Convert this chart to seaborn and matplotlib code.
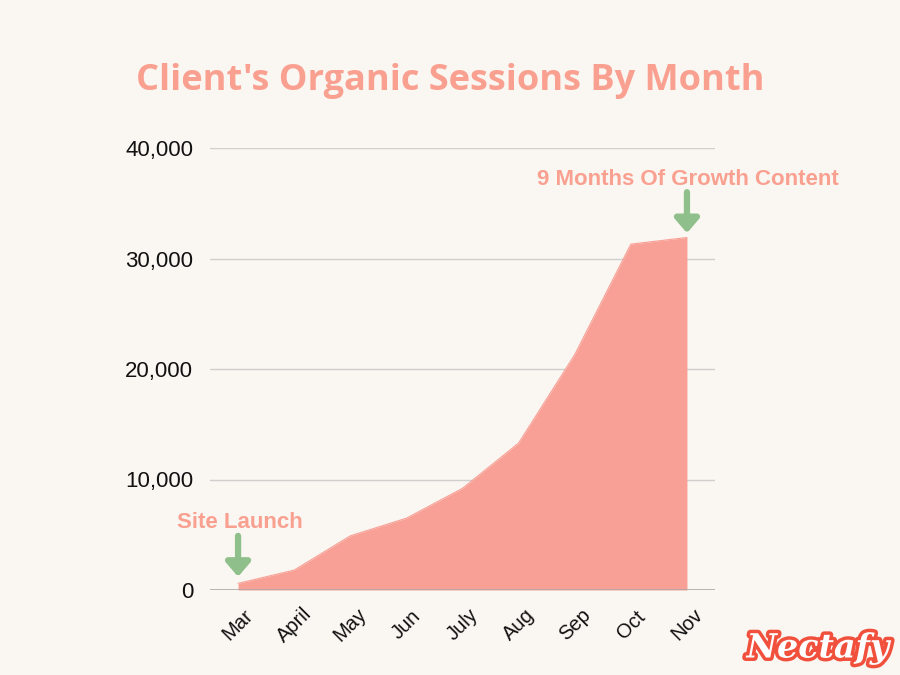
import matplotlib
matplotlib.use("Agg")
import matplotlib.pyplot as plt
import matplotlib.patheffects as pe
import seaborn as sns
import pandas as pd

months = ["Mar", "April", "May", "Jun", "July", "Aug", "Sep", "Oct", "Nov"]
sessions = [600, 1800, 4900, 6500, 9200, 13300, 21300, 31300, 31900]
yticks = [0, 10000, 20000, 30000, 40000]
ytick_labels = ["0", "10,000", "20,000", "30,000", "40,000"]
title = "Client's Organic Sessions By Month"
note_start = "Site Launch"
note_end = "9 Months Of Growth Content"

bg = "#faf6f1"
salmon = "#f8a096"
text_salmon = "#f9a090"
green = "#8fbf8a"

sns.set_theme(style="white")
plt.rcParams["font.family"] = ["Liberation Sans", "DejaVu Sans"]

df = pd.DataFrame({"month": months, "sessions": sessions})
df["x"] = range(len(df))

fig = plt.figure(figsize=(9, 6.75), dpi=100, facecolor=bg)
ax = fig.add_axes([210/900, 1-590/675, 505/900, 442/675])
ax.set_facecolor(bg)

ax.fill_between(df["x"], df["sessions"], 0, color=salmon, linewidth=0, zorder=2)
sns.lineplot(data=df, x="x", y="sessions", ax=ax, color=salmon, linewidth=0.8, zorder=2)

ax.set_xlim(-0.5, len(months) - 0.5)
ax.set_ylim(0, 40000)
ax.set_yticks(yticks)
ax.set_yticklabels(ytick_labels, fontsize=16, color="#111111")
ax.set_xticks(df["x"])
ax.set_xticklabels(months, rotation=45, ha="center", rotation_mode="anchor", fontsize=14.5, color="#111111")
for lbl in ax.get_xticklabels():
    lbl.set_va("center")
ax.tick_params(axis="both", length=0)
ax.tick_params(axis="y", pad=12)
ax.tick_params(axis="x", pad=25)
ax.set_xlabel("")
ax.set_ylabel("")
for y in yticks[1:]:
    ax.axhline(y, color="#cfcfcf", linewidth=1, zorder=1)
ax.axhline(0, color="#aaaaaa", linewidth=1.2, zorder=3)
for s in ax.spines.values():
    s.set_visible(False)

fig.text(0.5, 1-81/675, title, ha="center", va="center", fontsize=26, fontweight="bold",
         color=text_salmon, family=["Open Sans", "DejaVu Sans"])

arrow = dict(arrowstyle="-|>,head_width=0.6,head_length=0.7", color=green, lw=4.5,
             shrinkA=0, shrinkB=0)
ax.annotate("", xy=(0, 1200), xytext=(0, 4900), arrowprops=arrow, zorder=5)
fig.text(240/900, 1-522/675, note_start, ha="center", va="center", fontsize=16, fontweight="bold",
         color=text_salmon)

ax.annotate("", xy=(8, 32300), xytext=(8, 36000), arrowprops=arrow, zorder=5)
fig.text(688/900, 1-180/675, note_end, ha="center", va="center", fontsize=16, fontweight="bold",
         color=text_salmon)

fig.text(818/900, 1-648/675, "Nectafy", ha="center", va="center", fontsize=24, fontweight="bold",
         style="italic", color="white", family=["DejaVu Serif"],
         path_effects=[pe.withStroke(linewidth=5, foreground="#f0503c")])

fig.savefig("out.png", dpi=100, facecolor=bg)
